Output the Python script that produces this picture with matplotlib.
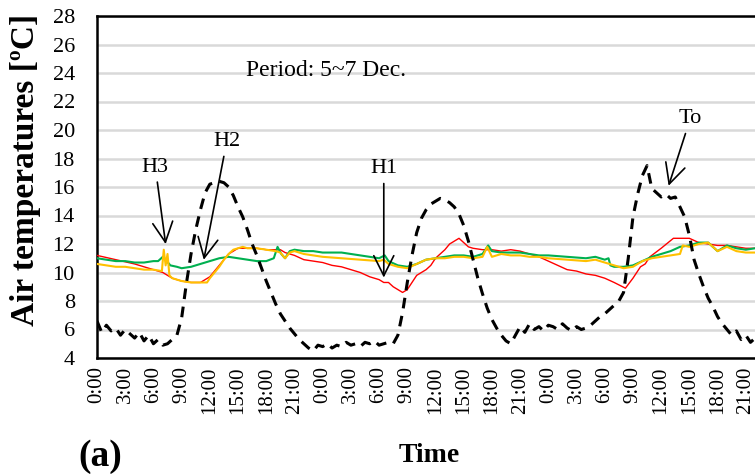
import matplotlib
matplotlib.use("Agg")
import matplotlib.pyplot as plt

# hours from 0:00 on 5 Dec
to_hours = [0, 0.5, 1, 1.5, 2, 2.5, 3, 3.5, 4, 4.5, 5, 5.5, 6, 6.5, 7, 7.5, 8, 8.5, 9, 9.5,
            10, 10.5, 11, 11.5, 12, 12.5, 13, 13.5, 14, 14.5, 15, 15.5, 16, 16.5, 17, 17.5, 18, 18.5, 19, 19.5,
            20, 20.5, 21, 21.5, 22, 22.5, 23, 23.5, 24, 24.5, 25, 25.5, 26, 26.5, 27, 27.5, 28, 28.5, 29, 29.5,
            30, 30.5, 31, 31.5, 32, 32.5, 33, 33.5, 34, 34.5, 35, 35.5, 36, 36.5, 37, 37.5, 38, 38.5, 39, 39.5,
            40, 40.5, 41, 41.5, 42, 42.5, 43, 43.5, 44, 44.5, 45, 45.5, 46, 46.5, 47, 47.5, 48, 48.5, 49, 49.5,
            50, 50.5, 51, 51.5, 52, 52.5, 53, 53.5, 54, 54.5, 55, 55.5, 56, 56.5, 57, 57.5, 58, 58.5, 59, 59.5,
            60, 60.5, 61, 61.5, 62, 62.5, 63, 63.5, 64, 64.5, 65, 65.5, 66, 66.5, 67, 67.5, 68, 68.5, 69, 69.5,
            70, 70.5, 71, 71.5]
to_temp = [6.6, 5.8, 6.3, 5.9, 6.1, 5.6, 6.0, 5.7, 5.4, 5.8, 5.2, 5.6, 5.0, 5.3, 4.9, 5.0, 5.3, 5.6, 6.8, 9.2,
           11.3, 13.0, 14.4, 15.6, 16.2, 16.3, 16.4, 16.3, 16.0, 15.4, 14.6, 13.9, 13.0, 12.0, 11.2, 10.3, 9.4, 8.6, 7.8, 7.1,
           6.6, 6.1, 5.7, 5.3, 5.0, 4.7, 4.5, 4.9, 4.8, 5.0, 4.7, 4.9, 4.8, 5.1, 4.9, 5.0, 4.8, 5.1, 5.0, 5.2,
           4.9, 5.0, 5.1, 5.0, 5.6, 7.2, 9.3, 11.2, 12.8, 13.8, 14.4, 14.8, 15.0, 15.2, 15.1, 14.9, 14.6, 14.1, 13.3, 12.2,
           10.9, 9.6, 8.5, 7.5, 6.7, 6.1, 5.6, 5.2, 5.0, 5.6, 6.2, 5.8, 6.4, 6.0, 6.2, 5.9, 6.3, 6.2, 6.0, 6.4,
           6.1, 5.9, 6.2, 6.0, 6.1, 6.3, 6.6, 6.9, 7.1, 7.4, 7.7, 8.0, 8.6, 11.0, 13.9, 15.5, 16.8, 17.5, 15.9, 15.6,
           15.3, 15.5, 15.2, 15.3, 14.6, 13.9, 12.6, 10.9, 9.9, 9.0, 8.2, 7.6, 6.9, 6.4, 6.0, 5.6, 5.9, 5.3, 5.6, 5.1,
           5.4, 4.9, 5.5, 5.0]

h1_hours = [0, 2, 4, 6, 7, 8, 9, 10, 11, 12, 13, 14, 15, 16, 17, 18, 19, 19.5, 20, 21, 22, 23, 24, 25, 26, 27,
            28, 29, 30, 30.5, 31, 31.5, 32, 32.5, 33, 33.5, 34, 35, 35.5, 36, 37, 37.5, 38, 38.5, 39, 39.5, 40,
            41, 42, 43, 44, 45, 46, 47, 48, 49, 50, 51, 52, 53, 54, 55, 56.2, 57, 57.8, 58.3, 58.8, 60, 61.3,
            62, 63, 64, 65, 66, 67, 68, 69, 70, 71.5]
h1_temp = [11.2, 10.9, 10.6, 10.2, 10.0, 9.6, 9.4, 9.3, 9.3, 9.7, 10.5, 11.3, 11.7, 11.7, 11.7, 11.6, 11.6, 11.6, 11.4, 11.2, 10.9, 10.8, 10.7, 10.5, 10.4, 10.2,
           10.0, 9.7, 9.5, 9.3, 9.3, 9.0, 8.8, 8.6, 8.8, 9.3, 9.8, 10.2, 10.5, 11.0, 11.6, 12.0, 12.2, 12.4, 12.1, 11.8, 11.7,
           11.6, 11.6, 11.5, 11.6, 11.5, 11.3, 11.1, 10.8, 10.5, 10.2, 10.1, 9.9, 9.8, 9.6, 9.3, 8.9, 9.6, 10.4, 10.6, 11.1, 11.7, 12.4,
           12.4, 12.4, 12.1, 12.0, 11.9, 11.9, 11.8, 11.7, 11.7, 11.6]

h2_hours = [0, 1, 2, 3, 4, 5, 6, 6.5, 7, 7.3, 7.8, 8.5, 9, 10, 11, 12, 13, 14, 15, 16, 17, 18, 18.8, 19.2, 19.6,
            20, 20.5, 21, 22, 23, 24, 25, 26, 27, 28, 29, 30, 30.6, 31, 32, 33, 34, 35, 36, 37, 38, 39, 40, 41,
            41.6, 42, 43, 44, 45, 46, 47, 48, 50, 52, 53, 54, 54.4, 54.6, 55, 56, 57, 58, 59, 60, 61, 62, 63,
            64, 65, 66, 67, 68, 69, 70, 71.5]
h2_temp = [11.0, 10.9, 10.8, 10.8, 10.7, 10.7, 10.8, 10.8, 11.1, 10.9, 10.5, 10.4, 10.3, 10.4, 10.6, 10.8, 11.0, 11.1, 11.0, 10.9, 10.8, 10.8, 11.0, 11.8, 11.3,
           11.0, 11.5, 11.6, 11.5, 11.5, 11.4, 11.4, 11.4, 11.3, 11.2, 11.1, 11.0, 11.2, 10.8, 10.5, 10.4, 10.6, 10.9, 11.0, 11.1, 11.2, 11.2, 11.1, 11.3,
           11.9, 11.5, 11.4, 11.4, 11.4, 11.3, 11.2, 11.2, 11.1, 11.0, 11.1, 10.9, 11.0, 10.5, 10.4, 10.4, 10.5, 10.8, 11.1, 11.3, 11.5, 11.8, 11.9,
           12.1, 12.1, 11.5, 11.9, 11.7, 11.6, 11.7, 11.7]

h3_hours = [0, 1, 2, 3, 4, 5, 6, 6.9, 7.1, 7.3, 7.5, 7.7, 8, 9, 10, 11, 11.7, 12, 12.5, 13, 13.5, 14, 14.5, 15,
            15.5, 16, 17, 18, 19, 19.5, 20, 20.5, 21, 22, 23, 24, 26, 28, 30, 30.5, 31, 32, 33, 34, 35, 36, 37,
            38, 39, 40, 41, 41.5, 42, 43, 44, 45, 46, 47, 48, 50, 52, 53, 54, 55, 56, 57, 58, 59, 60, 61, 62,
            62.3, 63, 64, 65, 66, 67, 68, 69, 70, 71.5]
h3_temp = [10.6, 10.5, 10.4, 10.4, 10.3, 10.2, 10.2, 10.1, 11.6, 10.5, 11.3, 9.8, 9.6, 9.4, 9.3, 9.3, 9.3, 9.6, 10.0, 10.4, 10.9, 11.3, 11.6, 11.7,
           11.8, 11.7, 11.7, 11.6, 11.5, 11.4, 11.0, 11.4, 11.5, 11.3, 11.2, 11.1, 11.0, 10.9, 10.8, 10.9, 10.6, 10.4, 10.3, 10.6, 10.9, 11.0, 11.0,
           11.1, 11.1, 11.0, 11.1, 11.8, 11.1, 11.3, 11.2, 11.2, 11.1, 11.1, 11.0, 10.9, 10.8, 10.9, 10.7, 10.5, 10.3, 10.4, 10.8, 11.0, 11.1, 11.2, 11.3,
           11.9, 11.8, 12.0, 12.1, 11.5, 11.8, 11.5, 11.4, 11.4, 11.4]

tick_hours = list(range(0, 72, 3))
tick_labels = ["%d:00" % (h % 24) for h in tick_hours]
y_ticks = list(range(4, 30, 2))

SERIF = ["Liberation Serif", "DejaVu Serif"]


def main():
    plt.rcParams["font.family"] = SERIF
    fig = plt.figure(figsize=(7.55, 4.74), dpi=100)
    ax = fig.add_axes([97 / 755, 116 / 474, 677 / 755, 342 / 474])

    ax.plot(h1_hours, h1_temp, color="#FF0000", lw=1.0, zorder=3)
    ax.plot(h2_hours, h2_temp, color="#00B050", lw=1.5, zorder=4)
    ax.plot(h3_hours, h3_temp, color="#FFC000", lw=1.5, zorder=5)
    ax.plot(to_hours, to_temp, color="black", lw=2.2, ls=(0, (3.5, 2.5)), zorder=6)

    ax.set_xlim(0, 72)
    ax.set_ylim(4, 28)
    ax.set_yticks(y_ticks)
    ax.set_xticks(tick_hours)
    ax.set_xticklabels(tick_labels, rotation=90, fontsize=15)
    ax.tick_params(axis="y", length=0, pad=16, labelsize=16)
    ax.tick_params(axis="x", length=0, pad=6)
    ax.grid(True, axis="y", color="#d9d9d9", lw=1.8, zorder=0)
    ax.set_axisbelow(True)
    for s in ax.spines.values():
        s.set_linewidth(1.8)

    ax.set_ylabel("Air temperatures [ºC]", fontsize=24, fontweight="bold")
    ax.yaxis.set_label_coords(-0.083, 0.55)

    ax.text(15.8, 24.2, "Period: 5~7 Dec.", fontsize=17, va="center")

    arrow = dict(arrowstyle="->,head_length=0.9,head_width=0.45", color="black", lw=1.2)
    ax.annotate("H3", xy=(7.34, 11.8), xytext=(6.2, 17.4), fontsize=16,
                ha="center", va="center", arrowprops=arrow, zorder=7)
    ax.annotate("H2", xy=(11.3, 10.7), xytext=(13.8, 19.2), fontsize=16,
                ha="center", va="center", arrowprops=arrow, zorder=7)
    ax.annotate("H1", xy=(30.5, 9.45), xytext=(30.5, 17.3), fontsize=16,
                ha="center", va="center", arrowprops=arrow, zorder=7)
    ax.annotate("To", xy=(60.7, 15.9), xytext=(63.1, 20.8), fontsize=16,
                ha="center", va="center", arrowprops=arrow, zorder=7)

    fig.text(429 / 755, 1 - 455 / 474, "Time", fontsize=20, fontweight="bold",
             ha="center", va="center")
    fig.text(100 / 755, 1 - 456 / 474, "(a)", fontsize=27, fontweight="bold",
             ha="center", va="center")

    fig.savefig("out.png", dpi=100)


if __name__ == "__main__":
    main()
